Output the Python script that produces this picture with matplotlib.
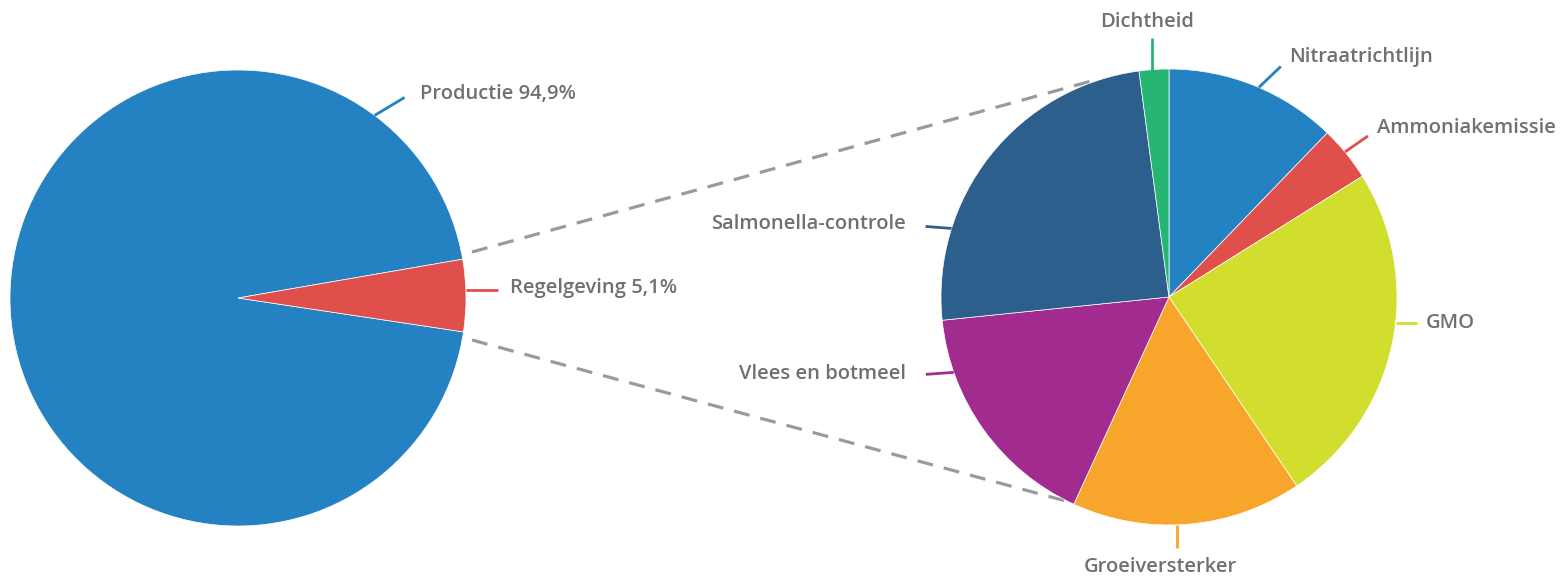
import numpy as np
import matplotlib
matplotlib.use('Agg')
import matplotlib.pyplot as plt

# data
main_labels = ['Productie 94,9%', 'Regelgeving 5,1%']
main_values = [94.9, 5.1]
main_colors = ['#2481c2', '#df504c']

sub_labels = ['Nitraatrichtlijn', 'Ammoniakemissie', 'GMO', 'Groeiversterker',
              'Vlees en botmeel', 'Salmonella-controle', 'Dichtheid']
sub_values = [12.2, 3.9, 24.4, 16.3, 16.5, 24.5, 2.1]
sub_colors = ['#2481c2', '#df504c', '#d1de2d', '#f8a52b', '#a22b8f', '#2d5f8c', '#27b573']

# layout (pixels, y measured from top)
W, H = 1567, 580
R = 228
c_main = (238, 298)
c_sub = (1169, 297)
text_color = '#6f7073'
font = dict(family='Open Sans', weight='semibold', size=14.5, color=text_color)

# leader line: angle on rim, end offset (dx, dy), text offset, alignment
main_lead = [(53.2, (30, -18), (15, -3), 'left'),
             (2.0, (32, 0), (12, -2), 'left')]
sub_lead = [(66.8, (22, -21), (8, -9), 'left'),
            (39.5, (23, -16), (9, -8), 'left'),
            (-6.5, (21, 0), (9, 0), 'left'),
            (-88.0, (0, 23), (-17, 19), 'center'),
            (199.3, (-28, 2), (-20, 0), 'right'),
            (162.5, (-26, -2), (-20, -2), 'right'),
            (94.3, (0, -32), (-5, -16), 'center')]


def px(x, y):
    return x, H - y


fig = plt.figure(figsize=(W / 100, H / 100), dpi=100)
ax = fig.add_axes([0, 0, 1, 1])

# dashed connectors (behind the right pie)
for p0, p1 in [((472, 252), (1095, 80)), ((472, 340), (1110, 513))]:
    x0, y0 = px(*p0)
    x1, y1 = px(*p1)
    ax.plot([x0, x1], [y0, y1], color='#999a9c', lw=2.3, ls=(0, (5, 3.5)), zorder=1)

ax.pie(main_values, colors=main_colors, center=px(*c_main), radius=R,
       startangle=9.8, counterclock=True,
       wedgeprops=dict(edgecolor='white', linewidth=0.5, zorder=2))
ax.pie(sub_values, colors=sub_colors, center=px(*c_sub), radius=R,
       startangle=90, counterclock=False,
       wedgeprops=dict(edgecolor='white', linewidth=0.5, zorder=2))


def labels(center, leads, names, cols):
    cx, cy = center
    for (ang, (dx, dy), (tx, ty), ha), name, col in zip(leads, names, cols):
        sx = cx + R * np.cos(np.radians(ang))
        sy = cy - R * np.sin(np.radians(ang))
        ex, ey = sx + dx, sy + dy
        ax.plot(*zip(px(sx, sy), px(ex, ey)), color=col, lw=2, zorder=3,
                solid_capstyle='butt')
        ax.text(*px(ex + tx, ey + ty), name, ha=ha, va='center', **font)


labels(c_main, main_lead, main_labels, main_colors)
labels(c_sub, sub_lead, sub_labels, sub_colors)

ax.set_xlim(0, W)
ax.set_ylim(0, H)
ax.set_aspect('equal')
ax.set_axis_off()
fig.savefig('out.png', dpi=100)
